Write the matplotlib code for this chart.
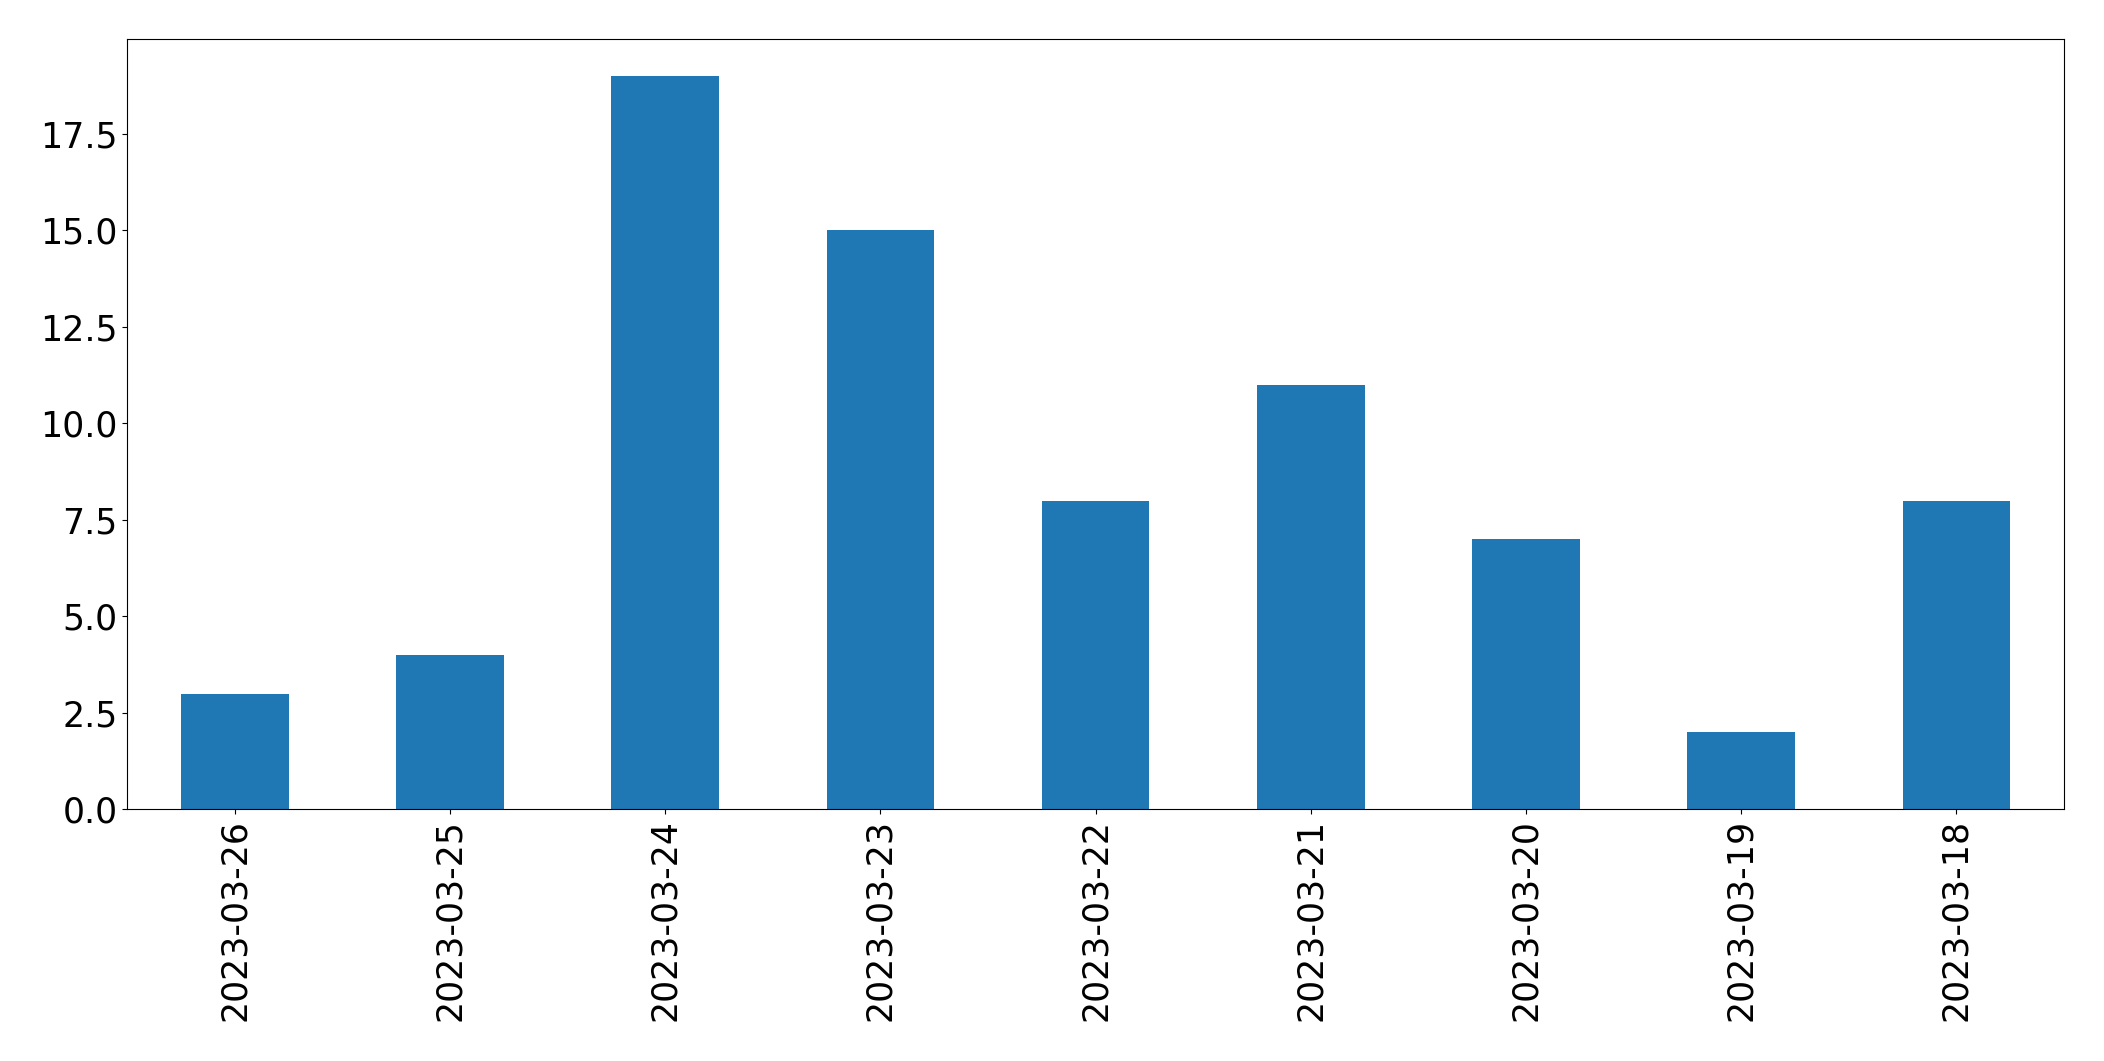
import pandas as pd
import matplotlib
matplotlib.use('Agg')
import matplotlib.pyplot as plt

# Даты и значения
dates = ['2023-03-26', '2023-03-25', '2023-03-24', '2023-03-23', '2023-03-22',
         '2023-03-21', '2023-03-20', '2023-03-19', '2023-03-18']
counts = [3, 4, 19, 15, 8, 11, 7, 2, 8]

s = pd.Series(counts, index=dates)

fig = plt.figure(figsize=(21.04, 10.61), dpi=100)
ax = fig.add_axes([0.0605, 0.2372, 0.9205, 0.7258])
s.plot(kind='bar', ax=ax, color='#1f77b4')
ax.tick_params(axis='both', labelsize=25)

fig.savefig('out.png', dpi=100)
